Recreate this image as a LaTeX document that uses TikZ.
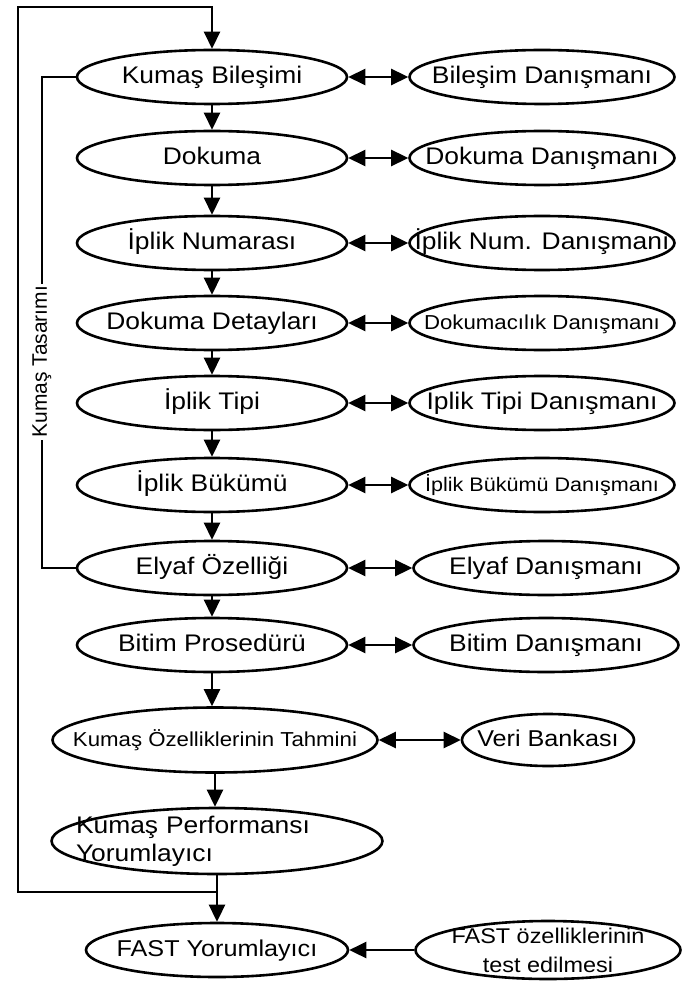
\documentclass[tikz,border=0pt]{standalone}
\usepackage{fontspec}
\setmainfont{Liberation Sans}[FakeStretch=1.1]
\newfontfamily\plainsans{Liberation Sans}
\usetikzlibrary{shapes.geometric,arrows.meta}
\newcommand{\fsz}[1]{\fontsize{#1}{#1}\selectfont}
\begin{document}
\begin{tikzpicture}[x=1pt,y=-1pt,
  oval/.style={ellipse, draw, line width=2.6pt, inner xsep=-40pt, inner ysep=0pt, font=\fsz{24}},
  oneline/.style={text height=17pt, text depth=4pt},
  lbox/.style={oval, oneline, minimum width=270pt, minimum height=54pt},
  rbox/.style={oval, oneline, minimum width=265pt, minimum height=54pt},
  link/.style={line width=2.6pt},
  tip/.tip={Triangle[length=17pt,width=16pt]},
  arr/.style={link, -tip},
  biarr/.style={link, tip-tip}]
\useasboundingbox (0,0) rectangle (682,981);

% main chain
\node[lbox] (kb) at (212,77) {Kumaş Bileşimi};
\node[lbox] (dk) at (212,158) {Dokuma};
\node[lbox] (in) at (212,243) {İplik Numarası};
\node[lbox] (dd) at (212,323) {Dokuma Detayları};
\node[lbox] (it) at (212,403) {İplik Tipi};
\node[lbox] (ib) at (212,485) {İplik Bükümü};
\node[lbox] (eo) at (212,568) {Elyaf Özelliği};
\node[lbox] (bp) at (212,645) {Bitim Prosedürü};
\node[oval, oneline, font=\fsz{20.2}, minimum width=325pt, minimum height=65pt] (kt) at (215,740) {Kumaş Özelliklerinin Tahmini};
\node[oval, align=left, text width=282pt, inner xsep=-24pt, inner ysep=-4pt,
      minimum width=330pt, minimum height=66pt, font=\fontsize{24}{28}\selectfont] (kp) at (217,841) {Kumaş Performansı\\Yorumlayıcı};
\node[oval, oneline, font=\fsz{22.9}, minimum width=262pt, minimum height=54pt] (fy) at (217,950) {FAST Yorumlayıcı};

% advisors
\node[rbox] (kbA) at (542,77) {Bileşim Danışmanı};
\node[rbox] (dkA) at (542,158) {Dokuma Danışmanı};
\node[rbox] (inA) at (542,243) {İplik Num. Danışmanı};
\node[rbox, font=\fsz{20.2}] (ddA) at (542,323) {Dokumacılık Danışmanı};
\node[rbox] (itA) at (542,403) {İplik Tipi Danışmanı};
\node[rbox, font=\fsz{19.6}] (ibA) at (542,485) {İplik Bükümü Danışmanı};
\node[rbox] (eoA) at (546,568) {Elyaf Danışmanı};
\node[rbox] (bpA) at (546,645) {Bitim Danışmanı};
\node[oval, oneline, font=\fsz{22.9}, minimum width=172pt, minimum height=52pt] (vb) at (548,740) {Veri Bankası};
\node[oval, align=center, font=\fontsize{21.3}{29}\selectfont, inner ysep=-3pt,
      minimum width=265pt, minimum height=58pt] (ft) at (548,950) {FAST özelliklerinin\\test edilmesi};

% downward flow
\foreach \a/\b in {kb/dk, dk/in, in/dd, dd/it, it/ib, ib/eo, eo/bp, bp/kt, kt/kp, kp/fy}
  \draw[arr] (\a.south) -- (\a.south |- \b.north);

% two-way links with the advisors
\foreach \a in {kb, dk, in, dd, it, ib, eo, bp}
  \draw[biarr] (\a.east) -- (\a A.west);
\draw[biarr] (kt.east) -- (vb.west);
\draw[arr] (ft.west) -- (fy.east);

% design loop
\coordinate (innerTop) at (42,77);
\draw[link] (kb.west) -- (innerTop) |- node[pos=0.29, rotate=90, fill=white, inner sep=2pt,
   font=\plainsans\fsz{21}] (designLabel) {Kumaş Tasarımı} (eo.west);

% feedback loop
\coordinate (fb) at (217,892);
\coordinate (outerTL) at (18,7);
\draw[arr] (fb) -| (outerTL) -| (kb.north);
\end{tikzpicture}
\end{document}
